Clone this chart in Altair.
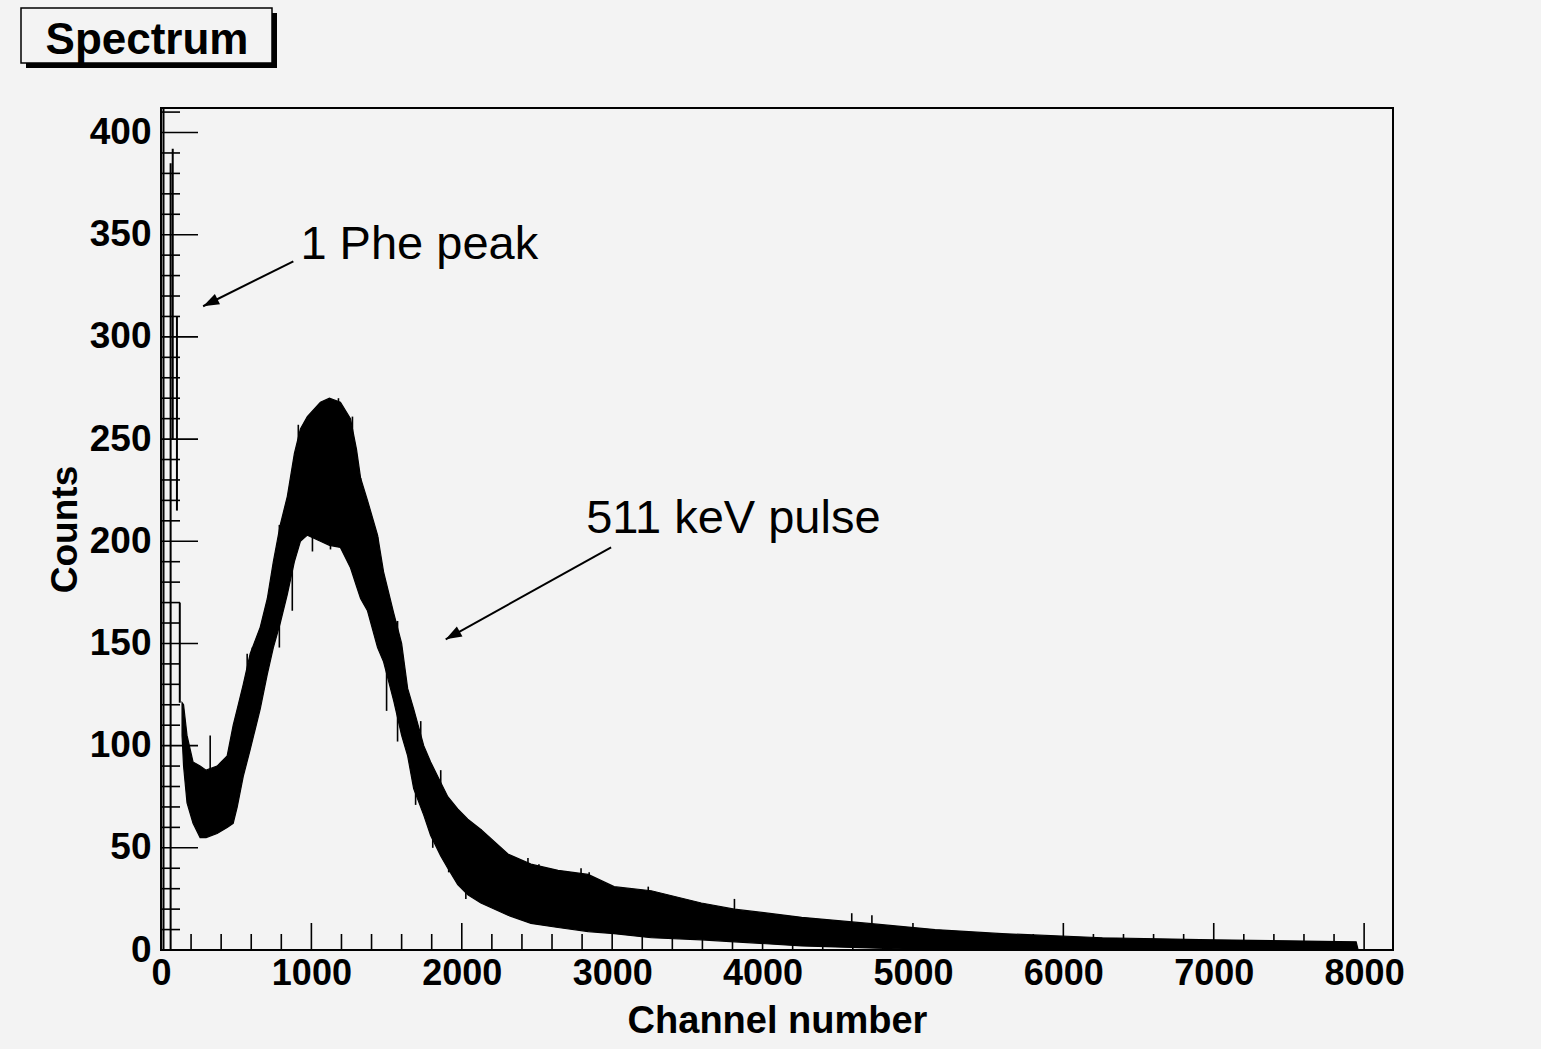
import math
import altair as alt
import pandas as pd

W, H = 1232, 842
XMAX, YMAX = 8192, 412
BG = "#f3f3f3"
FONT = "Liberation Sans"

# ---- spectrum envelope (min / max counts seen per channel region) ----
band_ch = [140, 150, 173, 213, 260, 300, 373, 440, 480, 507, 547, 593, 660, 707,
           747, 793, 840, 887, 927, 973, 1060, 1120, 1193, 1260, 1300, 1327, 1373,
           1440, 1480, 1547, 1600, 1640, 1680, 1747, 1793, 1860, 1907, 1973, 2040,
           2127, 2307, 2460, 2640, 2840, 3013, 3260, 3593, 3813, 4260, 4707, 5147,
           5593, 6260, 7000, 7947, 7960]
band_lo = [105, 90, 72, 62, 55, 55, 57, 60, 62, 70, 85, 98, 118, 135,
           148, 160, 174, 190, 200, 203, 200, 198, 197, 187, 178, 172, 166,
           148, 141, 122, 105, 95, 79, 66, 56, 46, 40, 32, 27,
           23, 17, 13, 11, 9, 8, 6, 5, 4, 2, 1, 0,
           0, 0, 0, 0, 0]
band_hi = [121, 120, 105, 92, 90, 88, 90, 95, 110, 118, 130, 145, 158, 172,
           190, 208, 222, 243, 255, 261, 268, 270, 268, 260, 245, 231, 220,
           203, 185, 165, 150, 128, 118, 100, 92, 82, 75, 69, 64,
           59, 47, 42, 39, 37, 31, 29, 23, 20, 16, 13, 10,
           8, 6, 5, 4, 0]

# ---- single photo-electron peak (thin lines) ----
phe_ch = [64, 78, 106, 125]
phe_lo = [0, 250, 215, 121]
phe_hi = [385, 392, 310, 170]

# ---- individual noise spikes ----
spike_ch = [327, 540, 573, 607, 787, 793, 873, 913, 1007, 1127, 1180, 1240, 1273,
            1327, 1407, 1440, 1500, 1560, 1573, 1693, 1727, 1807, 1860, 1913, 1980,
            2027, 2127, 2307, 2440, 2513, 2647, 2793, 2847, 3240, 3813, 4593, 4727]
spike_lo = [80, 100, 110, 115, 148, 180, 166, 230, 195, 196, 240, 193, 230,
            200, 180, 180, 117, 140, 102, 71, 80, 50, 60, 38, 40,
            25, 40, 30, 25, 22, 20, 20, 20, 15, 10, 6, 6]
spike_hi = [105, 122, 145, 148, 208, 200, 200, 257, 230, 230, 270, 220, 261,
            231, 204, 202, 150, 161, 161, 110, 112, 85, 88, 70, 68,
            50, 59, 47, 45, 42, 39, 40, 38, 31, 25, 18, 17]

# ---- axes ----
x_major = list(range(0, 8001, 1000))
x_minor = [v for v in range(200, 8001, 200) if v % 1000]
y_major = list(range(0, 401, 50))
y_minor = [v for v in range(10, 411, 10) if v % 50]

# ---- annotations ----
ann_text = ["1 Phe peak", "511 keV pulse"]
ann_ch = [927, 2827]
ann_v = [338, 204]
arr_ch0 = [880, 2993]
arr_v0 = [337, 197]
arr_ch1 = [280, 1893]
arr_v1 = [315, 152]

title_text = ["Spectrum"]

xs = alt.Scale(domain=[0, XMAX], nice=False, zero=False)
ys = alt.Scale(domain=[0, YMAX], nice=False, zero=False)

xaxis = alt.Axis(values=x_major, format="d", ticks=False, domain=False, grid=False,
                 labelFont=FONT, labelFontWeight="bold", labelFontSize=36,
                 labelColor="black", labelPadding=6, labelFlush=False,
                 labelOverlap=False, labelBound=False,
                 title="Channel number", titleFont=FONT, titleFontWeight="bold",
                 titleFontSize=38, titleColor="black", titlePadding=11)
yaxis = alt.Axis(values=y_major, format="d", ticks=False, domain=False, grid=False,
                 labelFont=FONT, labelFontWeight="bold", labelFontSize=37,
                 labelColor="black", labelPadding=10, labelFlush=False,
                 labelOverlap=False, labelBound=False,
                 title="Counts", titleFont=FONT, titleFontWeight="bold",
                 titleFontSize=37, titleColor="black", titlePadding=5)


def X(f):
    return alt.X(f, scale=xs, axis=xaxis)


def Y(f):
    return alt.Y(f, scale=ys, axis=yaxis)


band_df = pd.DataFrame({"ch": band_ch, "lo": band_lo, "hi": band_hi})
band = alt.Chart(band_df).mark_area(color="black", stroke="black", strokeWidth=1.2,
                                    interpolate="linear").encode(
    x=X("ch:Q"), y=Y("hi:Q"), y2="lo:Q")

phe_df = pd.DataFrame({"ch": phe_ch, "lo": phe_lo, "hi": phe_hi})
phe = alt.Chart(phe_df).mark_rule(color="black", strokeWidth=2).encode(
    x=X("ch:Q"), y=Y("lo:Q"), y2="hi:Q")

spk_df = pd.DataFrame({"ch": spike_ch, "lo": spike_lo, "hi": spike_hi})
spikes = alt.Chart(spk_df).mark_rule(color="black", strokeWidth=1.6).encode(
    x=X("ch:Q"), y=Y("lo:Q"), y2="hi:Q")


def xticks(vals, length):
    return alt.Chart(pd.DataFrame({"ch": vals})).mark_rule(color="black", strokeWidth=1.6).encode(
        x=X("ch:Q"), y=alt.value(H), y2=alt.value(H - length))


def yticks(vals, length):
    return alt.Chart(pd.DataFrame({"hi": vals})).mark_rule(color="black", strokeWidth=1.6).encode(
        y=Y("hi:Q"), x=alt.value(0), x2=alt.value(length))


left_line = alt.Chart(pd.DataFrame({"t": [0]})).mark_rule(color="black", strokeWidth=2).encode(
    x=alt.value(2.5), y=alt.value(0), y2=alt.value(H))

ann_df = pd.DataFrame({"txt": ann_text, "ch": ann_ch, "hi": ann_v})
ann = alt.Chart(ann_df).mark_text(align="left", baseline="alphabetic", font=FONT,
                                  fontSize=47, color="black").encode(
    x=X("ch:Q"), y=Y("hi:Q"), text="txt:N")

pxc = W / XMAX
pxv = H / YMAX
angles = []
for a0, b0, a1, b1 in zip(arr_ch0, arr_v0, arr_ch1, arr_v1):
    dx = (a1 - a0) * pxc
    dy = -(b1 - b0) * pxv
    angles.append(math.degrees(math.atan2(dx, -dy)) % 360)

arr_df = pd.DataFrame({"c0": arr_ch0, "v0": arr_v0, "ch": arr_ch1, "hi": arr_v1, "ang": angles})
shaft = alt.Chart(arr_df).mark_rule(color="black", strokeWidth=2).encode(
    x=X("c0:Q"), y=Y("v0:Q"), x2="ch:Q", y2="hi:Q")
head = alt.Chart(arr_df).mark_point(shape="M0,0 L0.36,1 L-0.36,1 Z", filled=True,
                                    color="black", opacity=1, size=1024).encode(
    x=X("ch:Q"), y=Y("hi:Q"), angle=alt.Angle("ang:Q", scale=None))

tdf = pd.DataFrame({"t": title_text})
shadow = alt.Chart(tdf).mark_rect(color="black").encode(
    x=alt.value(26 - 161), x2=alt.value(277 - 161), y=alt.value(13 - 108), y2=alt.value(68 - 108))
box = alt.Chart(tdf).mark_rect(fill=BG, stroke="black", strokeWidth=1.5).encode(
    x=alt.value(21 - 161), x2=alt.value(272 - 161), y=alt.value(8 - 108), y2=alt.value(63 - 108))
ttext = alt.Chart(tdf).mark_text(font=FONT, fontWeight="bold", fontSize=44, color="black",
                                 align="center", baseline="alphabetic").encode(
    x=alt.value(147 - 161), y=alt.value(54 - 108), text="t:N")

chart = alt.layer(
    band, phe, spikes,
    xticks(x_major, 27), xticks(x_minor, 16), yticks(y_major, 37), yticks(y_minor, 19),
    left_line, ann, shaft, head, shadow, box, ttext,
).properties(
    width=W, height=H,
    autosize=alt.AutoSizeParams(type="none"),
    padding={"left": 161, "top": 108, "right": 148, "bottom": 99},
    background=BG,
).configure_view(fill=BG, stroke="black", strokeWidth=2)

chart.save("out.html", embed_options={"renderer": "svg", "actions": False})
